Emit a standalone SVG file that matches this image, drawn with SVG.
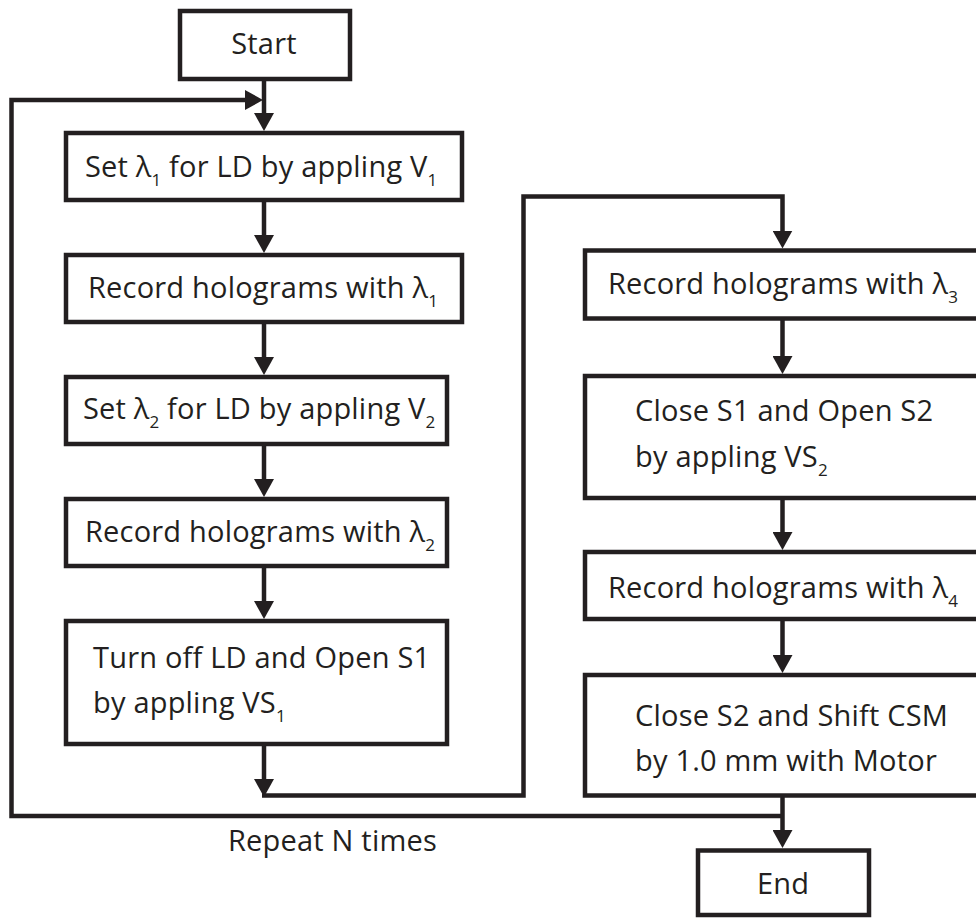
<svg xmlns="http://www.w3.org/2000/svg" width="976" height="918" viewBox="0 0 976 918">
<style>
.box{fill:#fff;stroke:#231f20;stroke-width:4.5}
.ln{fill:none;stroke:#231f20;stroke-width:4.5}
text{font-family:"Open Sans","DejaVu Sans",sans-serif;font-size:29px;letter-spacing:0.2px;fill:#231f20}
.sub{font-size:17px;letter-spacing:0}
</style>
<defs>
<marker id="ah" markerUnits="userSpaceOnUse" viewBox="0 0 18 20" refX="8" refY="10" markerWidth="18" markerHeight="20" orient="auto">
<path d="M0,0 L18,10 L0,20 z" fill="#231f20"/>
</marker>
</defs>
<rect x="0" y="0" width="976" height="918" fill="#fff"/>
<g id="connectors">
<path class="ln" d="M264,79 V121" marker-end="url(#ah)"/>
<path class="ln" d="M782.5,816 H11.5 V100 H253" marker-end="url(#ah)"/>
<path class="ln" d="M264,200 V243" marker-end="url(#ah)"/>
<path class="ln" d="M264,322 V365" marker-end="url(#ah)"/>
<path class="ln" d="M264,444 V487" marker-end="url(#ah)"/>
<path class="ln" d="M264,566 V609" marker-end="url(#ah)"/>
<path class="ln" d="M264,744 V787" marker-end="url(#ah)"/>
<path class="ln" d="M262,795.5 H523.5 V196.5 H782.5 V238.5" marker-end="url(#ah)"/>
<path class="ln" d="M782.5,318.5 V364" marker-end="url(#ah)"/>
<path class="ln" d="M782.5,498 V540" marker-end="url(#ah)"/>
<path class="ln" d="M782.5,619 V663" marker-end="url(#ah)"/>
<path class="ln" d="M782.5,795.5 V838" marker-end="url(#ah)"/>
</g>
<g id="start"><rect class="box" x="180" y="11" width="170" height="68"/><text x="264" y="54" text-anchor="middle">Start</text></g>
<g id="set1"><rect class="box" x="66" y="133" width="396" height="67"/><text x="85" y="177">Set λ<tspan class="sub" dy="9">1</tspan><tspan dy="-9"> for LD by appling V</tspan><tspan class="sub" dy="9">1</tspan></text></g>
<g id="rec1"><rect class="box" x="66" y="255" width="396" height="67"/><text x="88" y="298">Record holograms with λ<tspan class="sub" dy="9">1</tspan></text></g>
<g id="set2"><rect class="box" x="66" y="377" width="381" height="67"/><text x="83" y="419">Set λ<tspan class="sub" dy="9">2</tspan><tspan dy="-9"> for LD by appling V</tspan><tspan class="sub" dy="9">2</tspan></text></g>
<g id="rec2"><rect class="box" x="66" y="499" width="381" height="67"/><text x="85" y="542">Record holograms with λ<tspan class="sub" dy="9">2</tspan></text></g>
<g id="turnoff"><rect class="box" x="66" y="621" width="381" height="123"/><text x="93" y="668">Turn off LD and Open S1</text><text x="93" y="713">by appling VS<tspan class="sub" dy="9">1</tspan></text></g>
<g id="rec3"><rect class="box" x="585" y="250.5" width="410" height="68"/><text x="608" y="294">Record holograms with λ<tspan class="sub" dy="9">3</tspan></text></g>
<g id="close1"><rect class="box" x="585" y="376" width="410" height="122"/><text x="635" y="421">Close S1 and Open S2</text><text x="635" y="467">by appling VS<tspan class="sub" dy="9">2</tspan></text></g>
<g id="rec4"><rect class="box" x="585" y="552" width="410" height="67"/><text x="608" y="598">Record holograms with λ<tspan class="sub" dy="9">4</tspan></text></g>
<g id="close2"><rect class="box" x="585" y="675" width="410" height="120.5"/><text x="635" y="726">Close S2 and Shift CSM</text><text x="635" y="771">by 1.0 mm with Motor</text></g>
<g id="end"><rect class="box" x="698" y="850.5" width="171" height="64.5"/><text x="783" y="894" text-anchor="middle">End</text></g>
<g id="label"><text x="228" y="851">Repeat N times</text></g>
</svg>
